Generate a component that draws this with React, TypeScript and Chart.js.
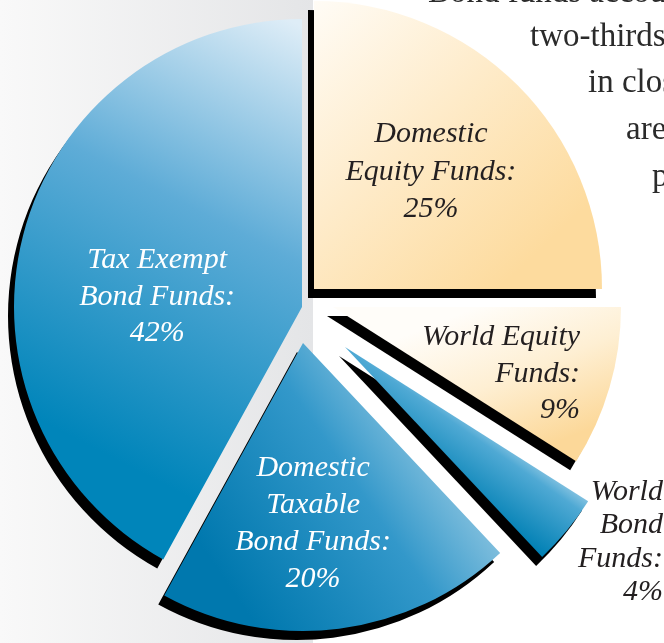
import React, { useEffect, useRef } from "react";
import { Chart, registerables } from "chart.js";

Chart.register(...registerables);

// ---------- data ----------
const categories = [
  "Domestic Equity Funds",
  "World Equity Funds",
  "World Bond Funds",
  "Domestic Taxable Bond Funds",
  "Tax Exempt Bond Funds",
];
const shares = [25, 9, 4, 20, 42];
const labelLines = [
  ["Domestic", "Equity Funds:"],
  ["World Equity", "Funds:"],
  ["World", "Bond", "Funds:"],
  ["Domestic", "Taxable", "Bond Funds:"],
  ["Tax Exempt", "Bond Funds:"],
];
const bodyLines = [
  "Bond funds account for about",
  "two-thirds of the assets",
  "in closed-end funds, which",
  "are",
  "primarily",
];

// ---------- styles ----------
const W = 664;
const H = 643;
const PAD = { left: 14, top: 19, right: 74, bottom: 48 };
const shiftX = [12, 31, 43, 1, 0];
const shiftY = [-18, 0, 40, 36, 0];
const gradFrom = [
  [0.0, -1.0],
  [0.5, 0.0],
  [0.74, 0.38],
  [0.65, 0.45],
  [-0.05, -1.0],
];
const gradTo = [
  [0.8, -0.15],
  [0.7, 0.5],
  [0.56, 0.64],
  [-0.15, 1.0],
  [-0.8, 0.45],
];
const gradStops: [number, string][][] = [
  [[0, "#fffcf6"], [0.5, "#feebc9"], [1, "#fddb9e"]],
  [[0, "#fffdf9"], [0.5, "#feefd3"], [1, "#fcd899"]],
  [[0, "#cfe6f3"], [0.35, "#4fa9d4"], [1, "#0080b4"]],
  [[0, "#9fcee5"], [0.42, "#3398ca"], [1, "#0078ae"]],
  [[0, "#deedf7"], [0.45, "#5eacd7"], [1, "#0085ba"]],
];
const fallback = ["#fee6bb", "#feefd3", "#3d9ccd", "#3d9ccd", "#3d9ccd"];
const labelFX = [0.406, 0.858, 1.104, 0.035, -0.503];
const labelFY = [-0.51, 0.132, 0.531, 0.462, -0.135];
const labelAlign: CanvasTextAlign[] = ["center", "right", "right", "center", "center"];
const labelColor = ["#231f20", "#231f20", "#231f20", "#ffffff", "#ffffff"];
const labelLH = [37.5, 36.5, 33.5, 37, 36.5];
const bodyX = [428, 530, 588, 626, 652];
const bodyBaseline = [3, 47, 93, 140, 187];

const slicePlugin = {
  id: "sliceShift",
  afterDatasetsUpdate(chart: any) {
    const a = chart.chartArea;
    const cx = (a.left + a.right) / 2;
    const cy = (a.top + a.bottom) / 2;
    chart.getDatasetMeta(0).data.forEach((el: any, i: number) => {
      el.x = cx + shiftX[i];
      el.y = cy + shiftY[i];
    });
  },
  beforeDatasetsDraw(chart: any) {
    const ctx = chart.ctx;
    ctx.save();
    ctx.shadowColor = "#000000";
    ctx.shadowOffsetX = -6;
    ctx.shadowOffsetY = 9;
    ctx.shadowBlur = 0;
  },
  afterDatasetsDraw(chart: any) {
    const ctx = chart.ctx;
    ctx.restore();
    ctx.save();
    ctx.font = "italic 30px 'Liberation Serif'";
    ctx.textBaseline = "alphabetic";
    chart.getDatasetMeta(0).data.forEach((el: any, i: number) => {
      const r = el.outerRadius;
      const x = el.x + labelFX[i] * r;
      const y0 = el.y + labelFY[i] * r;
      ctx.fillStyle = labelColor[i];
      ctx.textAlign = labelAlign[i];
      const lines = [...labelLines[i], shares[i] + "%"];
      lines.forEach((t, k) => ctx.fillText(t, x, y0 + k * labelLH[i]));
    });
    ctx.restore();
  },
};

function sliceFill(c: any) {
  const i = c.dataIndex;
  const chart = c.chart;
  const a = chart.chartArea;
  if (i === undefined || !a) return fallback[0];
  const r = Math.min(a.right - a.left, a.bottom - a.top) / 2;
  const cx = (a.left + a.right) / 2 + shiftX[i];
  const cy = (a.top + a.bottom) / 2 + shiftY[i];
  const g = chart.ctx.createLinearGradient(
    cx + gradFrom[i][0] * r,
    cy + gradFrom[i][1] * r,
    cx + gradTo[i][0] * r,
    cy + gradTo[i][1] * r
  );
  gradStops[i].forEach(([o, col]) => g.addColorStop(o, col));
  return g;
}

export default function App() {
  const ref = useRef<HTMLCanvasElement | null>(null);
  useEffect(() => {
    if (!ref.current) return;
    const chart = new Chart(ref.current, {
      type: "pie",
      data: {
        labels: categories,
        datasets: [
          {
            data: shares,
            backgroundColor: sliceFill as any,
            borderWidth: 0,
            clip: false as any,
          },
        ],
      },
      options: {
        responsive: false,
        animation: false,
        events: [],
        layout: { padding: PAD },
        plugins: {
          legend: { display: false },
          tooltip: { enabled: false },
        },
      },
      plugins: [slicePlugin],
    });
    return () => chart.destroy();
  }, []);

  return (
    <div
      style={{
        position: "fixed",
        left: 0,
        top: 0,
        width: W,
        height: H,
        overflow: "hidden",
        background:
          "linear-gradient(to right, #f9f9f9 0px, #e4e5e7 313px, #ffffff 313px, #ffffff 100%)",
      }}
    >
      <canvas
        ref={ref}
        width={W}
        height={H}
        style={{ position: "absolute", left: 0, top: 0, width: W, height: H }}
      />
      {bodyLines.map((t, i) => (
        <div
          key={i}
          style={{
            position: "absolute",
            left: bodyX[i],
            top: bodyBaseline[i] - 27.6,
            font: "33px 'Liberation Serif'",
            lineHeight: "33px",
            color: "#2b2b2b",
            whiteSpace: "nowrap",
          }}
        >
          {t}
        </div>
      ))}
    </div>
  );
}
